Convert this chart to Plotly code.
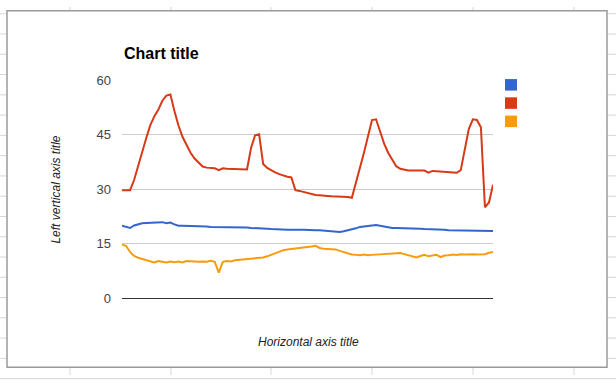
import plotly.graph_objects as go

# ---- data ----
sample = list(range(93))

series_blue = [19.9, 19.6, 19.3, 20.0, 20.4, 20.6, 20.7, 20.8, 20.9, 21.0,
               20.9, 20.6, 20.8, 20.3, 19.9, 19.9, 19.9, 19.8, 19.8, 19.7,
               19.7, 19.7, 19.6, 19.6, 19.6, 19.6, 19.5, 19.5, 19.5, 19.4,
               19.4, 19.4, 19.3, 19.3, 19.3, 19.2, 19.1, 19.0, 18.9, 18.9,
               18.8, 18.8, 18.8, 18.9, 18.8, 18.8, 18.7, 18.7, 18.7, 18.7,
               18.6, 18.5, 18.3, 18.1, 18.2, 18.4, 18.6, 18.8, 19.2, 19.6,
               19.8, 19.9, 20.0, 20.1, 19.9, 19.6, 19.4, 19.3, 19.3, 19.3,
               19.2, 19.3, 19.2, 19.1, 19.1, 19.0, 19.0, 18.9, 18.9, 18.8,
               18.8, 18.7, 18.7, 18.6, 18.6, 18.6, 18.6, 18.6, 18.6, 18.6,
               18.5, 18.5, 18.5]

series_red = [29.7, 29.7, 29.7, 32.5, 36.5, 40.3, 44.0, 47.5, 50.0, 51.8,
              54.3, 55.7, 56.0, 51.5, 47.5, 44.4, 42.0, 40.0, 38.4, 37.3,
              36.2, 35.9, 35.8, 35.7, 35.2, 35.7, 35.6, 35.6, 35.6, 35.5,
              35.5, 35.4, 41.3, 44.8, 45.1, 36.9, 35.8, 35.1, 34.6, 34.1,
              33.7, 33.4, 33.2, 29.7, 29.5, 29.2, 28.8, 28.5, 28.4, 28.3,
              28.3, 28.1, 28.0, 28.0, 27.9, 27.9, 27.8, 27.6, 31.5, 36.0,
              40.0, 44.5, 49.0, 49.2, 46.0, 42.5, 40.0, 38.0, 36.3, 35.6,
              35.3, 35.1, 35.1, 35.1, 35.0, 35.1, 34.5, 35.0, 34.9, 34.8,
              34.7, 34.6, 34.6, 34.5, 35.2, 40.5, 46.5, 49.2, 49.0, 47.0,
              25.0, 26.3, 31.2]

series_orange = [14.7, 14.4, 12.7, 11.6, 11.1, 10.8, 10.4, 10.1, 9.8, 10.2,
                 10.0, 9.8, 10.1, 9.9, 10.1, 9.8, 10.2, 10.1, 9.9, 10.0,
                 10.1, 10.0, 10.3, 10.0, 7.0, 10.0, 10.2, 10.1, 10.4, 10.5,
                 10.6, 10.7, 10.8, 10.9, 10.9, 11.2, 11.5, 11.9, 12.4, 12.9,
                 13.2, 13.4, 13.5, 13.7, 13.9, 14.0, 14.1, 14.2, 14.4, 13.8,
                 13.6, 13.5, 13.5, 13.4, 13.0, 12.6, 12.2, 12.0, 11.9, 11.8,
                 12.0, 11.8, 11.9, 12.0, 12.1, 12.0, 12.3, 12.3, 12.4, 12.4,
                 12.1, 11.8, 11.5, 11.2, 11.6, 11.9, 11.5, 11.8, 11.9, 11.3,
                 11.7, 11.8, 12.0, 11.9, 12.1, 12.0, 12.1, 12.1, 12.0, 12.0,
                 12.1, 12.5, 12.7]

y_ticks = [0, 15, 30, 45, 60]
colors = ["#3366cc", "#d63a16", "#f89c0e"]

W, H = 616, 383


def px(x):
    return x / W


def py(y):
    return 1 - y / H


fig = go.Figure()
for vals, col in zip([series_blue, series_red, series_orange], colors):
    fig.add_trace(go.Scatter(x=sample, y=vals, mode="lines",
                             line=dict(color=col, width=2),
                             hoverinfo="skip", showlegend=False))

shapes = []
# spreadsheet grid behind the chart card
for gx in [70, 171, 271, 372, 473, 574]:
    shapes.append(dict(type="line", xref="paper", yref="paper",
                       x0=px(gx), x1=px(gx), y0=0, y1=1,
                       line=dict(color="#d6d6d6", width=1), layer="below"))
for k in range(19):
    gy = 7 + 21.1 * k
    shapes.append(dict(type="line", xref="paper", yref="paper",
                       x0=0, x1=1, y0=py(gy), y1=py(gy),
                       line=dict(color="#d6d6d6", width=1), layer="below"))
# chart card
shapes.append(dict(type="rect", xref="paper", yref="paper",
                   x0=px(7), x1=px(607), y0=py(375), y1=py(4),
                   fillcolor="white", line=dict(color="#9a9a9a", width=1.5),
                   layer="below"))
# legend swatches (no labels in the reference)
for i, col in enumerate(colors):
    top = 75 + 19 * i
    shapes.append(dict(type="rect", xref="paper", yref="paper",
                       x0=px(505), x1=px(517), y0=py(top + 12), y1=py(top),
                       fillcolor=col, line=dict(width=0)))

annotations = [
    dict(text="<b>Chart title</b>", xref="paper", yref="paper",
         x=px(122), y=py(48), xanchor="left", yanchor="middle", showarrow=False,
         font=dict(family="Liberation Sans, Arial", size=16, color="#000")),
    dict(text="<i>Left vertical axis title</i>", xref="paper", yref="paper",
         x=px(56), y=py(190), xanchor="center", yanchor="middle", showarrow=False,
         textangle=-90,
         font=dict(family="Liberation Sans, Arial", size=12, color="#222")),
    dict(text="<i>Horizontal axis title</i>", xref="paper", yref="paper",
         x=px(308), y=py(349), xanchor="center", yanchor="middle", showarrow=False,
         font=dict(family="Liberation Sans, Arial", size=12, color="#222")),
]

fig.update_layout(
    width=W, height=H,
    margin=dict(l=0, r=0, t=0, b=0),
    paper_bgcolor="white", plot_bgcolor="rgba(0,0,0,0)",
    showlegend=False,
    shapes=shapes, annotations=annotations,
    xaxis=dict(domain=[px(122), px(493)], range=[0, 92], showgrid=False,
               zeroline=False, showticklabels=False, ticks="", showline=False,
               fixedrange=True),
    yaxis=dict(domain=[py(303), py(76)], range=[0, 60], tickvals=y_ticks,
               showgrid=True, gridcolor="#cccccc", gridwidth=1,
               zeroline=True, zerolinecolor="#333333", zerolinewidth=1,
               ticks="", ticklabelstandoff=10, showline=False,
               tickfont=dict(family="Liberation Sans, Arial", size=13, color="#444"),
               fixedrange=True),
)

fig.write_html("out.html", config={"displayModeBar": False, "staticPlot": True},
               post_script="document.body.style.margin='0';document.body.style.overflow='hidden';")
